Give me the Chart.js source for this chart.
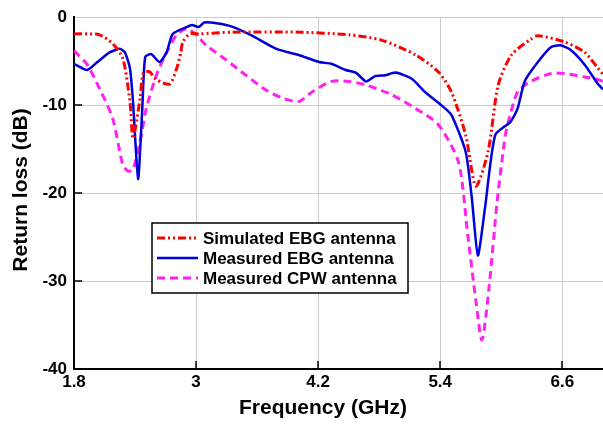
<!DOCTYPE html>
<html>
<head>
<meta charset="utf-8">
<script src="https://cdn.jsdelivr.net/npm/chart.js@4.4.0/dist/chart.umd.min.js"></script>
<style>
  html, body { margin: 0; padding: 0; background: #fff; }
  #wrap { width: 603px; height: 426px; }
</style>
</head>
<body>
<div id="wrap"><canvas id="grafico"></canvas></div>
<script>
// datos
const xTicks = [1.8, 3, 4.2, 5.4, 6.6];

const freqSim = [1.80, 1.93, 2.05, 2.18, 2.28, 2.35, 2.38, 2.45, 2.48, 2.54, 2.61, 2.74, 2.81, 2.85, 2.87, 2.94, 3.03, 3.36, 4.01, 4.50, 4.82, 5.16, 5.38, 5.51, 5.65, 5.75, 5.87, 5.97, 6.10, 6.29, 6.36, 6.62, 6.82, 6.95, 7.0];
const rlSim   = [-1.9, -1.9, -2.0, -3.0, -4.7, -9.6, -13.8, -9.2, -6.4, -6.2, -7.1, -7.6, -5.8, -4.0, -2.8, -1.9, -1.9, -1.7, -1.7, -2.0, -2.6, -4.3, -6.2, -8.5, -13.4, -19.2, -15.3, -7.7, -4.3, -2.5, -2.1, -2.8, -4.0, -5.8, -6.5];

const freqEbg = [1.80, 1.93, 2.03, 2.15, 2.25, 2.30, 2.35, 2.38, 2.43, 2.47, 2.50, 2.56, 2.64, 2.71, 2.77, 2.91, 2.96, 3.03, 3.08, 3.20, 3.36, 3.55, 3.79, 4.01, 4.21, 4.33, 4.47, 4.57, 4.67, 4.76, 4.86, 4.96, 5.12, 5.25, 5.41, 5.51, 5.65, 5.71, 5.77, 5.84, 5.94, 6.09, 6.16, 6.23, 6.36, 6.49, 6.58, 6.68, 6.82, 6.95, 7.0];
const rlEbg   = [-5.3, -6.0, -5.1, -4.0, -3.6, -4.0, -5.8, -9.6, -18.4, -10.7, -4.5, -4.2, -5.1, -4.0, -1.9, -1.1, -0.9, -1.1, -0.6, -0.7, -1.1, -2.1, -3.6, -4.3, -5.1, -5.3, -6.0, -6.3, -7.3, -6.7, -6.6, -6.3, -7.0, -8.5, -10.0, -11.1, -15.3, -20.5, -27.1, -21.7, -13.4, -11.9, -10.4, -7.3, -5.1, -3.4, -3.2, -3.7, -5.4, -7.6, -8.2];

const freqCpw = [1.80, 1.93, 2.05, 2.18, 2.28, 2.33, 2.38, 2.45, 2.51, 2.61, 2.71, 2.81, 2.91, 3.00, 3.10, 3.30, 3.49, 3.69, 3.85, 4.01, 4.14, 4.33, 4.50, 4.67, 4.92, 5.16, 5.38, 5.58, 5.67, 5.75, 5.81, 5.88, 5.96, 6.04, 6.07, 6.16, 6.29, 6.49, 6.62, 6.82, 6.95, 7.0];
const rlCpw   = [-3.8, -5.4, -8.1, -11.5, -16.8, -17.5, -17.3, -14.1, -10.4, -6.6, -4.0, -2.0, -1.3, -2.0, -3.2, -4.9, -6.6, -8.3, -9.2, -9.6, -8.5, -7.3, -7.3, -7.7, -8.8, -10.4, -12.2, -16.5, -24.7, -32.2, -36.7, -30.7, -20.9, -13.4, -11.9, -8.5, -7.3, -6.4, -6.4, -6.8, -7.1, -7.3];

const etiquetas = ['Simulated EBG antenna', 'Measured EBG antenna', 'Measured CPW antenna'];
const tituloX = 'Frequency (GHz)';
const tituloY = 'Return loss (dB)';

function puntos(xs, ys) {
  return xs.map((x, i) => ({ x: x, y: ys[i] }));
}

const fuente = '"Liberation Sans", Arial, sans-serif';

// leyenda dentro del area del grafico
const leyendaInterna = {
  id: 'leyendaInterna',
  afterDraw(chart) {
    const ctx = chart.ctx;
    const x0 = 152, y0 = 223, w = 256, h = 70;
    ctx.save();
    ctx.fillStyle = '#fff';
    ctx.fillRect(x0, y0, w, h);
    ctx.strokeStyle = '#000';
    ctx.lineWidth = 1.5;
    ctx.strokeRect(x0, y0, w, h);
    ctx.font = 'bold 17px ' + fuente;
    ctx.textBaseline = 'middle';
    chart.data.datasets.forEach((ds, i) => {
      const y = y0 + 15 + i * 20;
      ctx.strokeStyle = ds.borderColor;
      ctx.lineWidth = ds.borderWidth;
      ctx.setLineDash(ds.borderDash || []);
      ctx.beginPath();
      ctx.moveTo(x0 + 5, y);
      ctx.lineTo(x0 + 46, y);
      ctx.stroke();
      ctx.setLineDash([]);
      ctx.fillStyle = '#000';
      ctx.fillText(ds.label, x0 + 51, y + 1);
    });
    ctx.restore();
  }
};

// marcas de los ejes hacia dentro y titulos de los ejes
const marcas = {
  id: 'marcas',
  afterDraw(chart) {
    const ctx = chart.ctx;
    const xs = chart.scales.x, ys = chart.scales.y;
    const a = chart.chartArea;
    ctx.save();
    ctx.strokeStyle = '#000';
    ctx.lineWidth = 1.5;
    ctx.beginPath();
    xTicks.slice(1).forEach(v => {
      const px = Math.round(xs.getPixelForValue(v));
      ctx.moveTo(px, a.bottom);
      ctx.lineTo(px, a.bottom - 8);
    });
    [-10, -20, -30].forEach(v => {
      const py = Math.round(ys.getPixelForValue(v));
      ctx.moveTo(a.left, py);
      ctx.lineTo(a.left + 8, py);
    });
    ctx.stroke();

    ctx.fillStyle = '#000';
    ctx.font = 'bold 21px ' + fuente;
    ctx.textAlign = 'center';
    ctx.textBaseline = 'middle';
    ctx.fillText(tituloX, 323, 408);
    ctx.translate(21, 190);
    ctx.rotate(-Math.PI / 2);
    ctx.fillText(tituloY, 0, 0);
    ctx.restore();
  }
};

new Chart(document.getElementById('grafico'), {
  type: 'line',
  data: {
    datasets: [
      {
        label: etiquetas[0],
        data: puntos(freqSim, rlSim),
        borderColor: '#ff0000',
        borderWidth: 3,
        borderDash: [8, 3, 2, 3, 2, 3],
        pointRadius: 0,
        tension: 0.25,
        fill: false
      },
      {
        label: etiquetas[1],
        data: puntos(freqEbg, rlEbg),
        borderColor: '#0000dd',
        borderWidth: 2.5,
        pointRadius: 0,
        tension: 0.2,
        fill: false
      },
      {
        label: etiquetas[2],
        data: puntos(freqCpw, rlCpw),
        borderColor: '#ff22ee',
        borderWidth: 3,
        borderDash: [8, 5],
        pointRadius: 0,
        tension: 0.25,
        fill: false
      }
    ]
  },
  options: {
    responsive: true,
    maintainAspectRatio: false,
    animation: false,
    layout: { padding: { top: 13, right: 0, left: 0, bottom: 0 } },
    plugins: {
      legend: { display: false },
      tooltip: { enabled: false }
    },
    scales: {
      x: {
        type: 'linear',
        min: 1.8,
        max: 7.0,
        afterBuildTicks: s => { s.ticks = xTicks.map(v => ({ value: v })); },
        afterFit: s => { s.height = 57; },
        grid: { color: '#cccccc', lineWidth: 1, drawTicks: false },
        border: { color: '#000', width: 2 },
        ticks: {
          color: '#000',
          padding: 3,
          maxRotation: 0,
          font: { family: fuente, size: 17, weight: 'bold' },
          callback: v => String(v)
        },
        title: { display: false }
      },
      y: {
        min: -40,
        max: 0,
        afterFit: s => { s.width = 74; },
        grid: { color: '#cccccc', lineWidth: 1, drawTicks: false },
        border: { color: '#000', width: 2 },
        ticks: {
          stepSize: 10,
          color: '#000',
          padding: 7,
          font: { family: fuente, size: 17, weight: 'bold' }
        },
        title: { display: false }
      }
    }
  },
  plugins: [leyendaInterna, marcas]
});
</script>
</body>
</html>
